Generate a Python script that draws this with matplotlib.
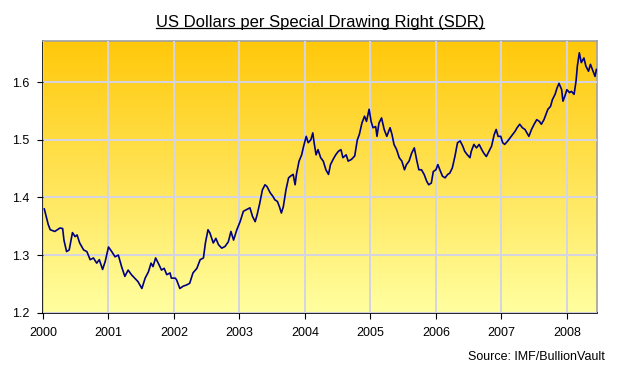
import numpy as np
import matplotlib
matplotlib.use("Agg")
import matplotlib.pyplot as plt
from matplotlib.lines import Line2D

plt.rcParams["font.family"] = ["Liberation Sans", "DejaVu Sans"]

# decimal year, USD per SDR
years = [
    2000.02, 2000.08, 2000.11, 2000.18, 2000.26, 2000.30, 2000.32, 2000.36, 2000.40, 2000.45,
    2000.49, 2000.52, 2000.56, 2000.62, 2000.67, 2000.72, 2000.77, 2000.82, 2000.86, 2000.91,
    2000.95, 2001.00, 2001.05, 2001.10, 2001.15, 2001.20, 2001.25, 2001.30, 2001.35, 2001.40,
    2001.45, 2001.51, 2001.56, 2001.61, 2001.65, 2001.68, 2001.72, 2001.76, 2001.81, 2001.85,
    2001.89, 2001.94, 2001.96, 2002.02, 2002.04, 2002.09, 2002.14, 2002.19, 2002.24, 2002.29,
    2002.35, 2002.40, 2002.45, 2002.48, 2002.52, 2002.55, 2002.60, 2002.64, 2002.68, 2002.73,
    2002.78, 2002.83, 2002.87, 2002.91, 2002.96, 2003.01, 2003.06, 2003.11, 2003.16, 2003.20,
    2003.24, 2003.27, 2003.31, 2003.35, 2003.39, 2003.42, 2003.47, 2003.51, 2003.54, 2003.58,
    2003.61, 2003.64, 2003.67, 2003.71, 2003.75, 2003.78, 2003.82, 2003.85, 2003.87, 2003.91,
    2003.95, 2003.98, 2004.02, 2004.05, 2004.09, 2004.12, 2004.14, 2004.17, 2004.20, 2004.24,
    2004.28, 2004.32, 2004.36, 2004.39, 2004.43, 2004.47, 2004.51, 2004.55, 2004.58, 2004.63,
    2004.66, 2004.71, 2004.76, 2004.80, 2004.83, 2004.87, 2004.91, 2004.94, 2004.98, 2005.01,
    2005.04, 2005.08, 2005.10, 2005.13, 2005.17, 2005.21, 2005.25, 2005.30, 2005.33, 2005.36,
    2005.40, 2005.44, 2005.48, 2005.52, 2005.55, 2005.59, 2005.63, 2005.67, 2005.71, 2005.74,
    2005.78, 2005.82, 2005.86, 2005.89, 2005.93, 2005.96, 2006.00, 2006.03, 2006.06, 2006.10,
    2006.14, 2006.18, 2006.21, 2006.25, 2006.29, 2006.33, 2006.37, 2006.41, 2006.44, 2006.48,
    2006.52, 2006.54, 2006.58, 2006.62, 2006.66, 2006.70, 2006.73, 2006.77, 2006.81, 2006.85,
    2006.89, 2006.92, 2006.95, 2006.99, 2007.02, 2007.05, 2007.09, 2007.13, 2007.17, 2007.21,
    2007.24, 2007.28, 2007.32, 2007.36, 2007.39, 2007.42, 2007.46, 2007.50, 2007.54, 2007.58,
    2007.61, 2007.65, 2007.68, 2007.71, 2007.75, 2007.78, 2007.82, 2007.85, 2007.88, 2007.92,
    2007.94, 2007.97, 2008.00, 2008.04, 2008.07, 2008.11, 2008.14, 2008.16, 2008.19, 2008.22,
    2008.26, 2008.29, 2008.33, 2008.36, 2008.39, 2008.43, 2008.45,
]
usd_per_sdr = [
    1.380, 1.353, 1.344, 1.341, 1.347, 1.346, 1.326, 1.306, 1.309, 1.339,
    1.332, 1.335, 1.321, 1.309, 1.306, 1.292, 1.295, 1.286, 1.292, 1.275,
    1.289, 1.314, 1.306, 1.297, 1.300, 1.280, 1.263, 1.274, 1.266, 1.260,
    1.254, 1.242, 1.260, 1.271, 1.286, 1.280, 1.295, 1.286, 1.274, 1.277,
    1.266, 1.269, 1.260, 1.260, 1.257, 1.242, 1.246, 1.248, 1.251, 1.269,
    1.277, 1.292, 1.295, 1.321, 1.344, 1.338, 1.321, 1.329, 1.318, 1.312,
    1.315, 1.323, 1.341, 1.326, 1.344, 1.358, 1.376, 1.379, 1.382, 1.367,
    1.358, 1.370, 1.390, 1.413, 1.422, 1.419, 1.408, 1.402, 1.396, 1.393,
    1.384, 1.373, 1.384, 1.413, 1.434, 1.437, 1.440, 1.422, 1.440, 1.463,
    1.474, 1.489, 1.506, 1.495, 1.500, 1.512, 1.495, 1.474, 1.483, 1.469,
    1.463, 1.448, 1.440, 1.457, 1.466, 1.474, 1.480, 1.483, 1.469, 1.474,
    1.463, 1.466, 1.472, 1.500, 1.509, 1.529, 1.541, 1.532, 1.553, 1.532,
    1.521, 1.523, 1.506, 1.529, 1.538, 1.518, 1.506, 1.521, 1.509, 1.492,
    1.483, 1.469, 1.463, 1.448, 1.457, 1.463, 1.477, 1.486, 1.463, 1.448,
    1.448, 1.440, 1.428, 1.422, 1.425, 1.445, 1.448, 1.457, 1.448, 1.437,
    1.434, 1.440, 1.442, 1.451, 1.471, 1.495, 1.498, 1.489, 1.480, 1.474,
    1.469, 1.480, 1.492, 1.486, 1.492, 1.483, 1.477, 1.471, 1.480, 1.489,
    1.509, 1.518, 1.506, 1.506, 1.495, 1.492, 1.497, 1.503, 1.509, 1.515,
    1.521, 1.527, 1.521, 1.518, 1.512, 1.506, 1.518, 1.527, 1.535, 1.532,
    1.527, 1.535, 1.544, 1.553, 1.558, 1.570, 1.579, 1.590, 1.598, 1.587,
    1.567, 1.576, 1.587, 1.582, 1.584, 1.579, 1.602, 1.628, 1.651, 1.634,
    1.642, 1.628, 1.619, 1.631, 1.622, 1.610, 1.622,
]
year_ticks = [2000, 2001, 2002, 2003, 2004, 2005, 2006, 2007, 2008]
value_ticks = [1.2, 1.3, 1.4, 1.5, 1.6]

fig = plt.figure(figsize=(6.2, 3.81), dpi=100)
ax = fig.add_axes([43/620, 1-312.7/381, (597-43)/620, (312.7-40.7)/381])

# vertical gradient background: orange-yellow top, pale yellow bottom
top = np.array([255, 200, 10]) / 255
bot = np.array([255, 255, 160]) / 255
t = np.linspace(0, 1, 256)[:, None]
grad = (top * (1 - t) + bot * t).reshape(256, 1, 3)
ax.imshow(grad, extent=[0, 1, 0, 1], transform=ax.transAxes, aspect="auto", zorder=0)

ax.plot(years, usd_per_sdr, color="#000080", lw=1.2, zorder=3)

ax.set_xlim(2000, 2008.46)
ax.set_ylim(1.2, 1.672)
ax.set_xticks(year_ticks)
ax.set_xticklabels([str(y) for y in year_ticks])
ax.set_yticks(value_ticks)
ax.set_yticklabels(["%.1f" % v for v in value_ticks])
ax.tick_params(labelsize=9, length=4, direction="out", colors="black", pad=6)
ax.grid(True, color="#d4d4e4", lw=1.4, zorder=1)
ax.set_axisbelow(False)

for s in ["top", "right"]:
    ax.spines[s].set_color("#a0a0a0")
    ax.spines[s].set_linewidth(1.2)
for s in ["left", "bottom"]:
    ax.spines[s].set_color("black")
    ax.spines[s].set_linewidth(1.2)

title = fig.text(0.516, 1-22/381, "US Dollars per Special Drawing Right (SDR)",
                 ha="center", va="center", fontsize=12)
fig.text(605/620, 1-357/381, "Source: IMF/BullionVault", ha="right", va="center", fontsize=9)

# underline the title
fig.canvas.draw()
bb = title.get_window_extent().transformed(fig.transFigure.inverted())
fig.add_artist(Line2D([bb.x0, bb.x1], [bb.y0 + 0.003, bb.y0 + 0.003],
                      transform=fig.transFigure, color="black", lw=0.9))

fig.savefig("out.png", dpi=100)
